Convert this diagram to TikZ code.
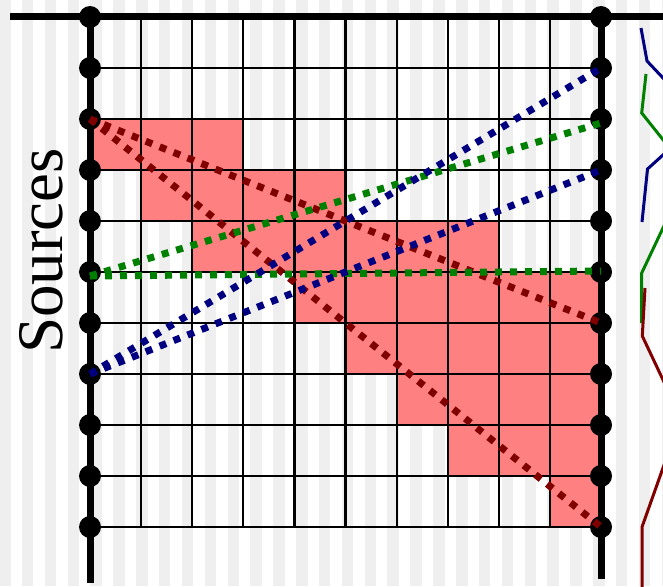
\documentclass[tikz,border=0pt]{standalone}
\usepackage{fontspec}
\setmainfont{Liberation Serif}
\definecolor{stripe}{RGB}{239,239,239}
\definecolor{cellred}{RGB}{255,128,128}
\definecolor{dblue}{RGB}{0,0,128}
\definecolor{dgreen}{RGB}{0,128,0}
\definecolor{dred}{RGB}{128,0,0}
\begin{document}
\begin{tikzpicture}[x=1pt,y=-1pt,
  dotnode/.style={circle,fill=black,inner sep=0pt,minimum size=22pt},
  thinline/.style={line width=2.2pt},
  thickline/.style={line width=7pt},
  ray/.style={line width=7pt,dash pattern=on 7pt off 8pt},
  trace/.style={line width=3pt}]
\useasboundingbox (0,0) rectangle (663,586);
\clip (0,0) rectangle (663,586);
% background stripes
\foreach \k in {0,...,29}
  \fill[stripe] ({22.85*\k-1},0) rectangle ({22.85*\k+10.5},586);
% red cells
\foreach \r/\a/\b in {2/0/2,3/1/4,4/2/7,5/4/9,6/5/9,7/6/9,8/7/9,9/9/9}
  \fill[cellred] ({90+51.1*\a},{17+51*\r}) rectangle ({90+51.1*(\b+1)},{17+51*(\r+1)});
% thin grid
\foreach \r in {1,...,10}
  \draw[thinline] (90,{17+51*\r}) -- (601,{17+51*\r});
\foreach \c in {1,...,9}
  \draw[thinline] ({90+51.1*\c},17) -- ({90+51.1*\c},527);
% thick lines
\draw[thickline] (10,17) -- (663,17);
\draw[thickline] (90,17) -- (90,583);
\draw[thickline] (601,17) -- (601,579);
% dots
\foreach \r in {0,...,10} {
  \node[dotnode] (L\r) at (90,{17+51*\r}) {};
  \node[dotnode] (R\r) at (601,{17+51*\r}) {};
}
% rays
\draw[ray,dred] (L2.center) -- (R6.center);
\draw[ray,dred] (L2.center) -- (R10.center);
\draw[ray,dgreen] ([yshift=-4pt]L5.center) -- ([yshift=-4pt]R2.center);
\draw[ray,dgreen] ([yshift=-4pt]L5.center) -- ([yshift=1pt]R5.center);
\draw[ray,dblue] (L7.center) -- (R1.center);
\draw[ray,dblue] (L7.center) -- (R3.center);
% traces on the right
\draw[trace,dblue] (641,28) -- (647,61) -- (680,96);
\draw[trace,dblue] (680,139.6) -- (647.5,169) -- (642,222);
\draw[trace,dgreen] (646,74) -- (641.7,113) -- (680,161);
\draw[trace,dgreen] (680,192) -- (641.7,273) -- (641.7,323);
\draw[trace,dred] (645,288) -- (642.3,336) -- (680,416);
\draw[trace,dred] (680,420) -- (642,527) -- (642,590);
% label
\node[rotate=90,anchor=base,inner sep=0pt,font=\fontsize{65}{65}\selectfont] (src) at (62,251) {Sources};
\end{tikzpicture}
\end{document}
